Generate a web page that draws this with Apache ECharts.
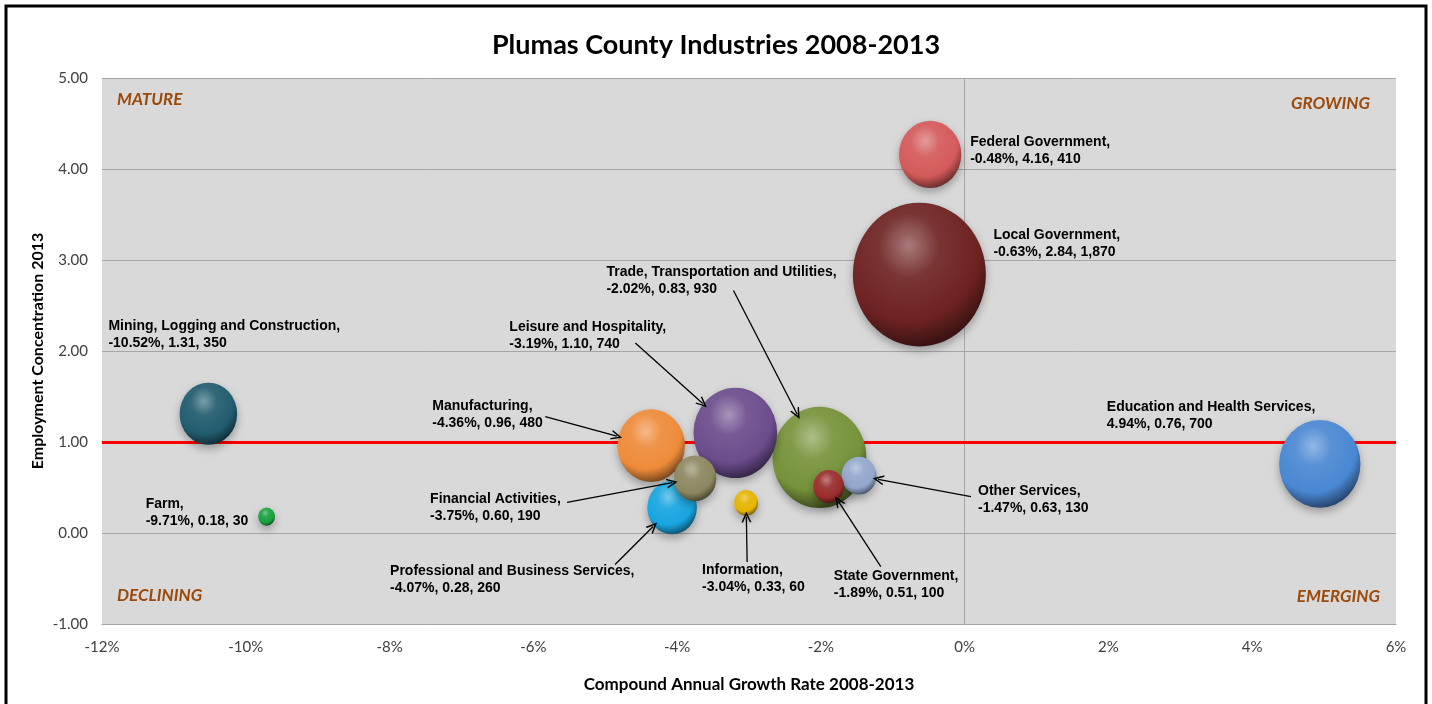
<!DOCTYPE html>
<html>
<head>
<meta charset="utf-8">
<title>Plumas County Industries 2008-2013</title>
<script src="https://cdn.jsdelivr.net/npm/echarts@6/dist/echarts.min.js"></script>
<style>
    html, body { margin: 0; padding: 0; background: #fff; }
    #chart { width: 1432px; height: 704px; }
</style>
</head>
<body>
<div id="chart"></div>
<script>
// data
const industries = [
    'Federal Government',
    'Local Government',
    'Trade, Transportation and Utilities',
    'Leisure and Hospitality',
    'Mining, Logging and Construction',
    'Manufacturing',
    'Financial Activities',
    'Professional and Business Services',
    'Information',
    'State Government',
    'Other Services',
    'Education and Health Services',
    'Farm',
]
const growthRate = [-0.48, -0.63, -2.02, -3.19, -10.52, -4.36, -3.75, -4.07, -3.04, -1.89, -1.47, 4.94, -9.71]
const concentration = [4.16, 2.84, 0.83, 1.10, 1.31, 0.96, 0.60, 0.28, 0.33, 0.51, 0.63, 0.76, 0.18]
const employment = [410, 1870, 930, 740, 350, 480, 190, 260, 60, 100, 130, 700, 30]
const quadrants = ['MATURE', 'GROWING', 'DECLINING', 'EMERGING']

// styling
const bubbleColors = [
    '#d45a5a', '#6e2222', '#76923a', '#6b4c8c', '#215c6e', '#ee8b3a', '#8c8760',
    '#18a5e0', '#e6b400', '#9a2c2c', '#93a7cc', '#4a87d2', '#19a03c',
]
// label top-left, relative to bubble centre (px)
const labelOffset = [
    [40, -21], [74, -48], [-213, -194], [-226, -114], [-100, -96], [-219, -48], [-265, 12],
    [-282, 55], [-44, 59], [5, 81], [119, 7], [-213, -65], [-121, -21],
]
// arrow tail, relative to bubble centre (px); null = no arrow
const arrowTail = [
    null, null, [-86, -167], [-100, -90], null, [-106, -29], [-128, 24],
    [-57, 57], [1, 59], [52, 80], [112, 21], null, null,
]
const maxDiameter = 133
const maxEmployment = Math.max(...employment)

function shade(hex, amt) {
    // amt > 0 mixes with white, amt < 0 with black
    const n = parseInt(hex.slice(1), 16)
    let rgb = [(n >> 16) & 255, (n >> 8) & 255, n & 255]
    rgb = rgb.map(c => Math.round(amt > 0 ? c + (255 - c) * amt : c * (1 + amt)))
    return 'rgb(' + rgb.join(',') + ')'
}

function sphere(base) {
    return new echarts.graphic.RadialGradient(0.42, 0.3, 0.75, [
        { offset: 0, color: shade(base, 0.4) },
        { offset: 0.3, color: shade(base, 0.08) },
        { offset: 0.7, color: base },
        { offset: 1, color: shade(base, -0.6) },
    ])
}

function diameter(v) {
    return maxDiameter * Math.sqrt(v / maxEmployment)
}

function fmtLabel(i) {
    return industries[i] + ',\n' + growthRate[i].toFixed(2) + '%, ' +
        concentration[i].toFixed(2) + ', ' + employment[i].toLocaleString('en-US')
}

// bigger bubbles drawn first so small ones stay visible
const order = industries.map((_, i) => i).sort((a, b) => employment[b] - employment[a])
const bubbleData = order.map(i => ({
    name: industries[i],
    value: [growthRate[i], concentration[i], employment[i], i],
    itemStyle: { color: sphere(bubbleColors[i]) },
}))

const chart = echarts.init(document.getElementById('chart'))
const axisText = { color: '#404040', fontSize: 15, fontFamily: 'Lato' }
const quadText = { fill: '#9c4a0b', fontSize: 17, fontWeight: 'bold', fontStyle: 'italic', fontFamily: 'Lato' }

chart.setOption({
    animation: false,
    title: {
        text: 'Plumas County Industries 2008-2013',
        left: 'center',
        top: 27,
        textStyle: { fontFamily: 'Lato', fontSize: 27, fontWeight: 'bold', color: '#000' },
    },
    grid: {
        left: 102, right: 36, top: 78, bottom: 80,
        show: true, backgroundColor: '#d9d9d9', borderWidth: 0,
    },
    xAxis: {
        type: 'value', min: -12, max: 6, interval: 2,
        name: 'Compound Annual Growth Rate 2008-2013',
        nameLocation: 'middle', nameGap: 52,
        nameTextStyle: { fontFamily: 'Lato', fontSize: 17, fontWeight: 'bold', color: '#000' },
        axisLine: { onZero: false, lineStyle: { color: '#a6a6a6' } },
        axisTick: { show: false },
        splitLine: { show: false },
        axisLabel: Object.assign({ margin: 16, formatter: '{value}%' }, axisText),
    },
    yAxis: {
        type: 'value', min: -1, max: 5, interval: 1,
        name: 'Employment Concentration 2013',
        nameLocation: 'middle', nameGap: 56,
        nameMoveOverlap: false,
        nameTextStyle: { fontFamily: 'Lato', fontSize: 16, fontWeight: 'bold', color: '#000' },
        axisLine: { show: false },
        axisTick: { show: true, length: 4, lineStyle: { color: '#a6a6a6' } },
        splitLine: { lineStyle: { color: '#a6a6a6', width: 1 } },
        axisLabel: Object.assign({ margin: 14, formatter: v => v.toFixed(2) }, axisText),
    },
    graphic: [
        { type: 'rect', shape: { x: 6, y: 6, width: 1420, height: 720 }, style: { fill: 'none', stroke: '#000', lineWidth: 3 }, z: 100 },
        { type: 'text', left: 117, top: 91, style: Object.assign({ text: quadrants[0] }, quadText), z: 1 },
        { type: 'text', right: 62, top: 95, style: Object.assign({ text: quadrants[1] }, quadText), z: 1 },
        { type: 'text', left: 117, top: 587, style: Object.assign({ text: quadrants[2] }, quadText), z: 1 },
        { type: 'text', right: 52, top: 588, style: Object.assign({ text: quadrants[3] }, quadText), z: 1 },
    ],
    series: [
        {
            type: 'line',
            data: [],
            silent: true,
            z: 1,
            markLine: {
                silent: true,
                z: 1,
                symbol: 'none',
                label: { show: false },
                animation: false,
                data: [
                    { xAxis: 0, lineStyle: { color: '#a6a6a6', width: 1, type: 'solid' } },
                    { yAxis: 1, lineStyle: { color: '#ff0000', width: 3, type: 'solid' } },
                ],
            },
        },
        {
            type: 'scatter',
            name: 'arrows',
            data: [],
            z: 6,
        },
        {
            type: 'scatter',
            z: 3,
            data: bubbleData,
            symbolSize: d => {
                const w = diameter(d[2])
                return [w, w * 1.08]
            },
            itemStyle: {
                opacity: 1,
                shadowBlur: 8,
                shadowColor: 'rgba(0,0,0,0.3)',
                shadowOffsetY: 4,
            },
            emphasis: { disabled: true },
            label: {
                show: true,
                position: 'inside',
                formatter: p => fmtLabel(p.value[3]),
                fontFamily: 'Liberation Sans',
                fontWeight: 'bold',
                fontSize: 14,
                lineHeight: 17,
                color: '#000',
            },
            labelLayout: p => {
                const i = bubbleData[p.dataIndex].value[3]
                const cx = p.rect.x + p.rect.width / 2
                const cy = p.rect.y + p.rect.height / 2
                return {
                    x: cx + labelOffset[i][0],
                    y: cy + labelOffset[i][1],
                    align: 'left',
                    verticalAlign: 'top',
                }
            },
        },
    ],
})

// arrows: tail offset from each bubble, head on the bubble edge
const arrowData = []
industries.forEach((name, i) => {
    if (!arrowTail[i]) return
    const c = chart.convertToPixel({ gridIndex: 0 }, [growthRate[i], concentration[i]])
    const t = [c[0] + arrowTail[i][0], c[1] + arrowTail[i][1]]
    const len = Math.hypot(arrowTail[i][0], arrowTail[i][1])
    const r = diameter(employment[i]) / 2 + 2
    const h = [c[0] + arrowTail[i][0] / len * r, c[1] + arrowTail[i][1] / len * r]
    arrowData.push([
        { coord: chart.convertFromPixel({ gridIndex: 0 }, t), symbol: 'none' },
        { coord: chart.convertFromPixel({ gridIndex: 0 }, h), symbol: 'path://M5,0 L10,10 L8.4,10 L5,3.2 L1.6,10 L0,10 Z' },
    ])
})

chart.setOption({
    series: [
        {},
        {
            markLine: {
                silent: true,
                z: 6,
                animation: false,
                symbolSize: [10, 11],
                label: { show: false },
                lineStyle: { color: '#000', width: 1.3, type: 'solid' },
                data: arrowData,
            },
        },
        {},
    ],
})
</script>
</body>
</html>
